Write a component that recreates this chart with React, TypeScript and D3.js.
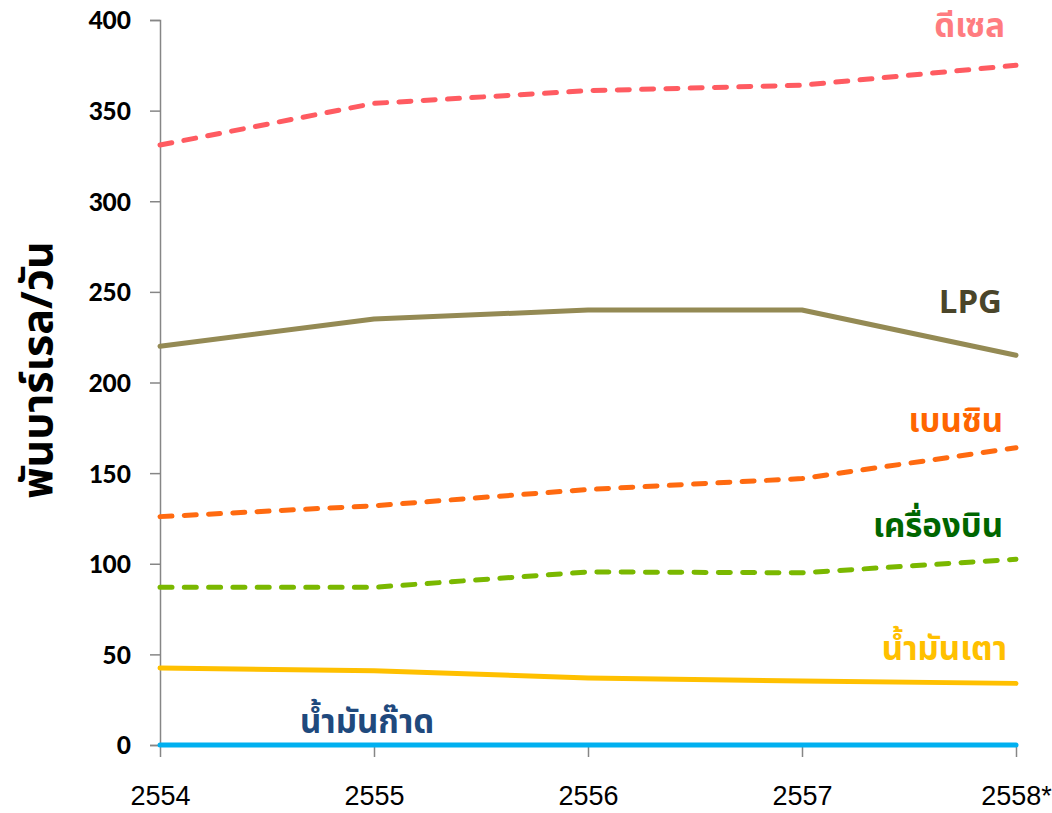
import React, { useEffect, useRef } from 'react';
import * as d3 from 'd3';

// years on x axis
const years = ['2554', '2555', '2556', '2557', '2558*'];
const yTicks = [0, 50, 100, 150, 200, 250, 300, 350, 400];

// thousand barrels / day
const diesel = [331, 354, 361, 364, 375];
const lpg = [220, 235, 240, 240, 215];
const benzin = [126, 132, 141, 147, 164];
const jet = [87, 87, 95.5, 95, 102.5];
const fuelOil = [42.5, 41, 37, 35.3, 34];
const kerosene = [0, 0, 0, 0, 0];

const seriesNames = ['ดีเซล', 'LPG', 'เบนซิน', 'เครื่องบิน', 'น้ำมันเตา', 'น้ำมันก๊าด'];
const seriesValues = [diesel, lpg, benzin, jet, fuelOil, kerosene];
const lineColors = ['#FF5B61', '#948A54', '#FF6A10', '#7AB800', '#FFC000', '#00B0F0'];
const labelColors = ['#FF7C80', '#4A452A', '#FF6600', '#006600', '#FFC000', '#1F497D'];
const dashed = [true, false, true, true, false, false];

const THAI = "'Noto Sans Thai', Tahoma, 'DejaVu Sans', sans-serif";

const App = () => {
  const ref = useRef<SVGSVGElement>(null);

  useEffect(() => {
    if (!ref.current) return;
    const svg = d3.select(ref.current);
    svg.selectAll('*').remove();

    const width = 1052;
    const height = 813;
    const margin = { top: 20, right: 36, bottom: 68, left: 160 };

    const x = d3.scalePoint<string>()
      .domain(years)
      .range([margin.left, width - margin.right]);

    const y = d3.scaleLinear()
      .domain([0, 400])
      .range([height - margin.bottom, margin.top]);

    // y axis
    const yAxis = svg.append('g')
      .attr('transform', `translate(${margin.left},0)`)
      .call(d3.axisLeft(y).tickValues(yTicks).tickSize(10).tickPadding(19));
    yAxis.selectAll('path, line').attr('stroke', '#868686').attr('stroke-width', 1.5);
    yAxis.selectAll('text')
      .attr('font-family', "Calibri, 'Open Sans', sans-serif")
      .attr('font-weight', 'bold')
      .attr('font-size', 28)
      .attr('fill', '#000');

    // x axis
    const xAxis = svg.append('g')
      .attr('transform', `translate(0,${y(0)})`)
      .call(d3.axisBottom(x).tickSize(12).tickPadding(29).tickSizeOuter(0));
    xAxis.selectAll('path, line').attr('stroke', '#868686').attr('stroke-width', 1.5);
    xAxis.selectAll('text')
      .attr('font-family', "'Liberation Sans', Arial, sans-serif")
      .attr('font-size', 27)
      .attr('fill', '#000');

    // y axis title
    svg.append('text')
      .attr('transform', `translate(52,370) rotate(-90)`)
      .attr('text-anchor', 'middle')
      .attr('font-family', THAI)
      .attr('font-weight', 'bold')
      .attr('font-size', 43)
      .attr('fill', '#000')
      .text('พันบาร์เรล/วัน');

    const line = d3.line<number>()
      .x((d, i) => x(years[i]) as number)
      .y(d => y(d));

    seriesValues.forEach((vals, k) => {
      svg.append('path')
        .datum(vals)
        .attr('fill', 'none')
        .attr('stroke', lineColors[k])
        .attr('stroke-width', 5)
        .attr('stroke-linecap', 'round')
        .attr('stroke-linejoin', 'round')
        .attr('stroke-dasharray', dashed[k] ? '12,12.3' : null)
        .attr('d', line);
    });

    // series labels
    const labelPos = [
      { x: 1005, y: 37, anchor: 'end' },
      { x: 1002, y: 313, anchor: 'end' },
      { x: 1003, y: 432, anchor: 'end' },
      { x: 1003, y: 537, anchor: 'end' },
      { x: 1007, y: 660, anchor: 'end' },
      { x: 300, y: 733, anchor: 'start' },
    ];
    seriesNames.forEach((name, k) => {
      svg.append('text')
        .attr('x', labelPos[k].x)
        .attr('y', labelPos[k].y)
        .attr('text-anchor', labelPos[k].anchor)
        .attr('font-family', THAI)
        .attr('font-weight', 'bold')
        .attr('font-size', 33)
        .attr('fill', labelColors[k])
        .text(name);
    });
  }, []);

  return (
    <svg
      ref={ref}
      width={1052}
      height={813}
      style={{ position: 'absolute', left: 0, top: 0, background: '#fff' }}
    />
  );
};

export default App;
